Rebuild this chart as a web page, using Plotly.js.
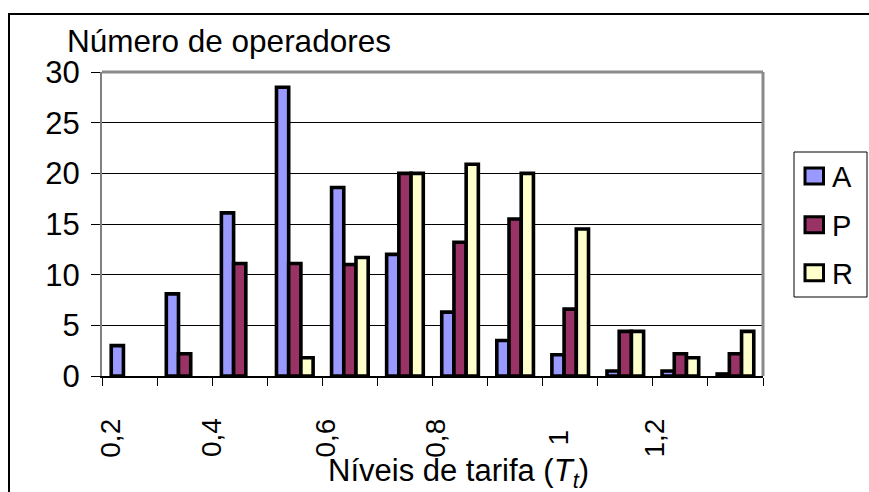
<!DOCTYPE html>
<html>
<head>
<meta charset="utf-8">
<script src="https://cdn.plot.ly/plotly-3.0.1.min.js"></script>
<style>
  html, body { margin: 0; padding: 0; background: #ffffff; }
  #chart { width: 869px; height: 492px; }
</style>
</head>
<body>
<div id="chart"></div>
<script>
// ---- data ----
const categories = ["0,2","0,3","0,4","0,5","0,6","0,7","0,8","0,9","1","1,1","1,2","1,3"];
const seriesA = [3.0, 8.1, 16.1, 28.5, 18.6, 12.0, 6.3, 3.5, 2.1, 0.5, 0.5, 0.2];
const seriesP = [null, 2.2, 11.1, 11.1, 11.0, 20.0, 13.2, 15.5, 6.6, 4.4, 2.2, 2.2];
const seriesR = [null, null, null, 1.8, 11.7, 20.0, 20.9, 20.0, 14.5, 4.4, 1.8, 4.4];
const seriesNames = ["A", "P", "R"];
const xTickLabels = ["0,2", "0,4", "0,6", "0,8", "1", "1,2"];
const yTickValues = [0, 5, 10, 15, 20, 25, 30];

const yTitle = "Número de operadores";
const xTitle = "Níveis de tarifa (<i>T</i><sub><i>t</i></sub>)";

// ---- styles / positions ----
const colors = ["#9999FF", "#993366", "#FFFFCC"];
const xTickLabelPos = [-0.36, 1.48, 3.54, 5.54, 7.77, 9.53];
const FONT = "Liberation Sans, Arial, Helvetica, sans-serif";

const W = 869, H = 492;
const M = { l: 102, r: 106, t: 72, b: 116 };
const PW = W - M.l - M.r, PH = H - M.t - M.b;
const px2x = (px) => (px - M.l) / PW;
const px2y = (py) => (H - M.b - py) / PH;

const seriesData = [seriesA, seriesP, seriesR];
const traces = seriesData.map((vals, i) => ({
  type: "bar",
  name: seriesNames[i],
  x: categories,
  y: vals,
  marker: { color: colors[i], line: { color: "#000000", width: 3.6 } },
  showlegend: false,
  hoverinfo: "x+y+name"
}));

const annotations = xTickLabels.map((t, i) => ({
  text: t,
  xref: "x", yref: "paper",
  x: xTickLabelPos[i], y: px2y(438),
  xanchor: "center", yanchor: "middle",
  textangle: -90,
  showarrow: false,
  font: { family: FONT, size: 28, color: "#000000" }
}));
annotations.push({
  text: yTitle, xref: "paper", yref: "paper",
  x: px2x(229), y: px2y(41), xanchor: "center", yanchor: "middle",
  showarrow: false, font: { family: FONT, size: 31.5, color: "#000000" }
});
annotations.push({
  text: xTitle, xref: "paper", yref: "paper",
  x: px2x(459), y: px2y(473), xanchor: "center", yanchor: "middle",
  showarrow: false, font: { family: FONT, size: 31, color: "#000000" }
});

// ---- hand-drawn legend (Excel style) ----
const legendRows = [176, 224.8, 272.8];
const shapes = [];
shapes.push({ type: "rect", xref: "paper", yref: "paper",
  x0: px2x(794), x1: px2x(867), y0: px2y(297), y1: px2y(152),
  line: { color: "#000000", width: 1 }, fillcolor: "#ffffff", layer: "above" });
seriesNames.forEach((n, i) => {
  const cy = legendRows[i];
  shapes.push({ type: "rect", xref: "paper", yref: "paper",
    x0: px2x(805), x1: px2x(823.5), y0: px2y(cy + 8), y1: px2y(cy - 8),
    line: { color: "#000000", width: 3 }, fillcolor: colors[i], layer: "above" });
  annotations.push({ text: n, xref: "paper", yref: "paper",
    x: px2x(830), y: px2y(cy + 1), xanchor: "left", yanchor: "middle",
    showarrow: false, font: { family: FONT, size: 29, color: "#000000" } });
});

// plot area border (top and right, grey)
shapes.push({ type: "line", xref: "paper", yref: "paper", x0: 0, x1: 1, y0: 1, y1: 1,
  line: { color: "#8a8a8a", width: 3 }, layer: "above" });
shapes.push({ type: "line", xref: "paper", yref: "paper", x0: 1, x1: 1, y0: 0, y1: 1,
  line: { color: "#8a8a8a", width: 3 }, layer: "above" });
// outer chart-area border
shapes.push({ type: "rect", xref: "paper", yref: "paper",
  x0: px2x(9), x1: px2x(880), y0: px2y(510), y1: px2y(14),
  line: { color: "#000000", width: 2 }, fillcolor: "rgba(0,0,0,0)", layer: "above" });

const layout = {
  width: W, height: H,
  margin: { l: M.l, r: M.r, t: M.t, b: M.b, pad: 0 },
  paper_bgcolor: "#ffffff", plot_bgcolor: "#ffffff",
  font: { family: FONT, color: "#000000" },
  barmode: "group",
  bargap: 0.335, bargroupgap: 0,
  showlegend: false,
  xaxis: {
    type: "category",
    categoryorder: "array", categoryarray: categories,
    range: [-0.5, categories.length - 0.5],
    tickson: "boundaries",
    ticks: "outside", ticklen: 8, tickwidth: 1, tickcolor: "#000000",
    showticklabels: false,
    showgrid: false, zeroline: false,
    showline: true, linecolor: "#000000", linewidth: 1.5,
    fixedrange: true
  },
  yaxis: {
    range: [0, 30],
    tickvals: yTickValues,
    ticks: "outside", ticklen: 9, tickwidth: 1, tickcolor: "#000000",
    ticklabelstandoff: 5,
    tickfont: { family: FONT, size: 31, color: "#000000" },
    showgrid: true, gridcolor: "#000000", gridwidth: 1,
    zeroline: false,
    showline: true, linecolor: "#808080", linewidth: 2,
    fixedrange: true
  },
  annotations: annotations,
  shapes: shapes
};

Plotly.newPlot("chart", traces, layout, { displayModeBar: false, staticPlot: true });
</script>
</body>
</html>
